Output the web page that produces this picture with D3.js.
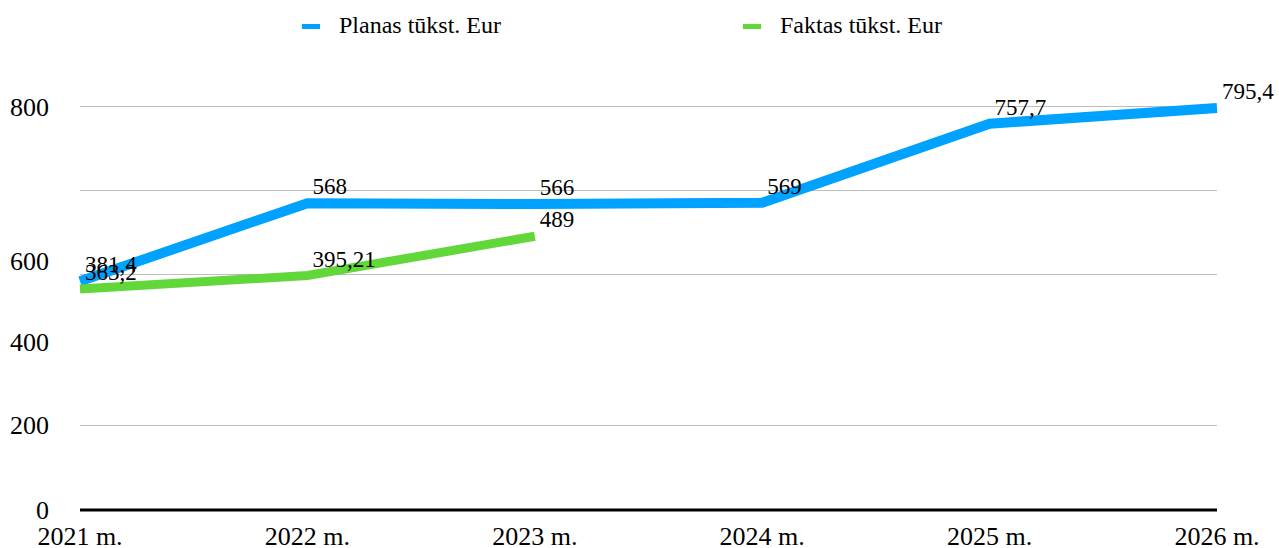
<!DOCTYPE html>
<html>
<head>
<meta charset="utf-8">
<script src="https://cdn.jsdelivr.net/npm/d3@7"></script>
<style>
  body { margin: 0; background: #fff; }
</style>
</head>
<body>
<div id="chart"></div>
<script>
var years = ["2021 m.", "2022 m.", "2023 m.", "2024 m.", "2025 m.", "2026 m."];
var planas = [381.4, 568, 566, 569, 757.7, 795.4];
var faktas = [363.2, 395.21, 489];
var planasLabels = ["381,4", "568", "566", "569", "757,7", "795,4"];
var faktasLabels = ["363,2", "395,21", "489"];
var yTicks = [0, 200, 400, 600, 800];
var gridValues = [400, 600, 800];

var svgWidth = 1279;
var svgHeight = 548;
var serif = "'Liberation Serif', 'DejaVu Serif', 'Times New Roman', serif";

var svg = d3.select("#chart")
  .append("svg")
  .attr("width", svgWidth)
  .attr("height", svgHeight)
  .attr("font-family", serif);

var xScale = d3.scalePoint()
  .domain(years)
  .range([80, 1217]);

// scale used by the lines
var yScale = d3.scaleLinear()
  .domain([0, 800])
  .range([441, 106]);

// the tick labels in the picture sit on their own (uneven) positions
var tickScale = d3.scaleLinear()
  .domain(yTicks)
  .range([510, 425, 342, 261, 107]);

// gridlines
svg.append("g")
  .selectAll("line")
  .data(gridValues)
  .enter()
  .append("line")
  .attr("x1", xScale.range()[0])
  .attr("x2", xScale.range()[1])
  .attr("y1", d => Math.round(yScale(d)) + 0.5)
  .attr("y2", d => Math.round(yScale(d)) + 0.5)
  .attr("stroke", "#bdbdbd")
  .attr("stroke-width", 1);

svg.append("line")
  .attr("x1", xScale.range()[0])
  .attr("x2", xScale.range()[1])
  .attr("y1", tickScale(200) + 0.5)
  .attr("y2", tickScale(200) + 0.5)
  .attr("stroke", "#bdbdbd")
  .attr("stroke-width", 1);

// baseline
svg.append("line")
  .attr("x1", xScale.range()[0])
  .attr("x2", xScale.range()[1])
  .attr("y1", tickScale(0))
  .attr("y2", tickScale(0))
  .attr("stroke", "#000")
  .attr("stroke-width", 3);

// y tick labels
svg.append("g")
  .selectAll("text")
  .data(yTicks)
  .enter()
  .append("text")
  .attr("x", 49)
  .attr("y", d => tickScale(d))
  .attr("dy", "0.35em")
  .attr("text-anchor", "end")
  .attr("font-size", "26px")
  .text(d => d);

// x tick labels
svg.append("g")
  .selectAll("text")
  .data(years)
  .enter()
  .append("text")
  .attr("x", d => xScale(d))
  .attr("y", 545)
  .attr("text-anchor", "middle")
  .attr("font-size", "26px")
  .text(d => d);

var line = d3.line()
  .x((d, i) => xScale(years[i]))
  .y(d => yScale(d));

svg.append("path")
  .datum(planas)
  .attr("d", line)
  .attr("fill", "none")
  .attr("stroke", "#00a2ff")
  .attr("stroke-width", 10);

svg.append("path")
  .datum(faktas)
  .attr("d", line)
  .attr("fill", "none")
  .attr("stroke", "#62d73a")
  .attr("stroke-width", 9);

// value labels
function addLabels(values, labels) {
  svg.append("g")
    .selectAll("text")
    .data(values)
    .enter()
    .append("text")
    .attr("x", (d, i) => xScale(years[i]) + 5)
    .attr("y", d => yScale(d) - 9)
    .attr("font-size", "23px")
    .text((d, i) => labels[i]);
}
addLabels(planas, planasLabels);
addLabels(faktas, faktasLabels);

// legend
var legend = [
  {name: "Planas tūkst. Eur", color: "#00a2ff", x: 302},
  {name: "Faktas tūkst. Eur", color: "#62d73a", x: 743}
];

var legendItems = svg.append("g")
  .selectAll("g")
  .data(legend)
  .enter()
  .append("g")
  .attr("transform", d => `translate(${d.x}, 26)`);

legendItems.append("rect")
  .attr("x", 0)
  .attr("y", -2)
  .attr("width", 18)
  .attr("height", 5)
  .attr("fill", d => d.color);

legendItems.append("text")
  .attr("x", 37)
  .attr("y", 7)
  .attr("font-size", "24px")
  .text(d => d.name);
</script>
</body>
</html>
